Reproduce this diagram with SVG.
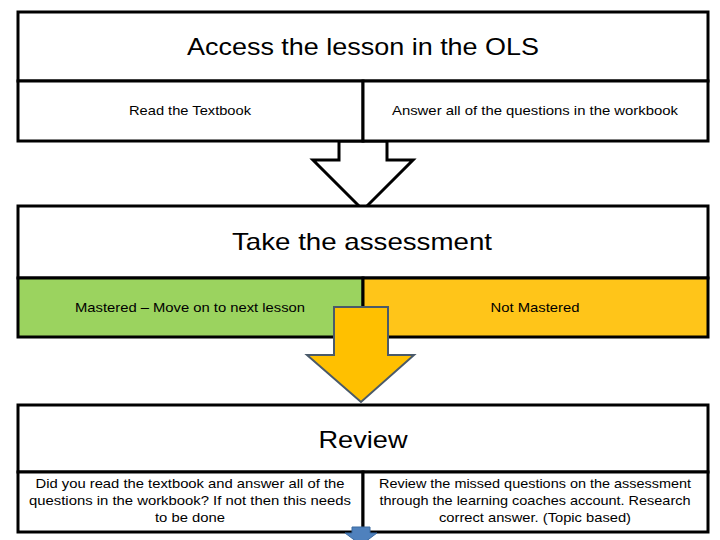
<svg xmlns="http://www.w3.org/2000/svg" width="720" height="540" viewBox="0 0 720 540">
<style>
.box{fill:#fff;stroke:#000;stroke-width:3}
.cell{stroke:#000;stroke-width:3}
text{font-family:"Liberation Sans",Arial,sans-serif;fill:#000;text-anchor:middle}
.big{font-size:24px}
.sm{font-size:13px}
</style>
<rect width="720" height="540" fill="#fff"/>
<g id="connectors">
<polygon points="339,141 387,141 387,160 413,160 363,210 313,160 339,160" fill="#fff" stroke="#000" stroke-width="3"/>
</g>
<g id="node-access">
<rect class="box" x="18" y="12" width="690" height="69"/>
<text class="big" x="363" y="55" textLength="352" lengthAdjust="spacingAndGlyphs">Access the lesson in the OLS</text>
</g>
<g id="node-read">
<rect class="box" x="18" y="81" width="345" height="60"/>
<text class="sm" x="190" y="115" textLength="122" lengthAdjust="spacingAndGlyphs">Read the Textbook</text>
</g>
<g id="node-answer">
<rect class="box" x="363" y="81" width="345" height="60"/>
<text class="sm" x="535" y="115" textLength="286" lengthAdjust="spacingAndGlyphs">Answer all of the questions in the workbook</text>
</g>
<g id="node-assess">
<rect class="box" x="18" y="206" width="690" height="72"/>
<text class="big" x="362" y="250" textLength="260" lengthAdjust="spacingAndGlyphs">Take the assessment</text>
</g>
<g id="node-mastered">
<rect class="cell" x="18" y="278" width="345" height="59" fill="#9BD35F"/>
<text class="sm" x="190" y="312" textLength="230" lengthAdjust="spacingAndGlyphs">Mastered – Move on to next lesson</text>
</g>
<g id="node-notmastered">
<rect class="cell" x="363" y="278" width="345" height="59" fill="#FFC519"/>
<text class="sm" x="535" y="312" textLength="89" lengthAdjust="spacingAndGlyphs">Not Mastered</text>
</g>
<g id="node-review">
<rect class="box" x="18" y="405" width="690" height="67"/>
<text class="big" x="363" y="448" textLength="89" lengthAdjust="spacingAndGlyphs">Review</text>
</g>
<g id="node-review-left">
<rect class="box" x="18" y="472" width="345" height="60"/>
<text class="sm" x="190" y="488" textLength="309" lengthAdjust="spacingAndGlyphs">Did you read the textbook and answer all of the</text>
<text class="sm" x="190" y="505" textLength="322" lengthAdjust="spacingAndGlyphs">questions in the workbook? If not then this needs</text>
<text class="sm" x="190" y="522" textLength="70" lengthAdjust="spacingAndGlyphs">to be done</text>
</g>
<g id="node-review-right">
<rect class="box" x="363" y="472" width="345" height="60"/>
<text class="sm" x="535" y="488" textLength="312" lengthAdjust="spacingAndGlyphs">Review the missed questions on the assessment</text>
<text class="sm" x="535" y="505" textLength="311" lengthAdjust="spacingAndGlyphs">through the learning coaches account. Research</text>
<text class="sm" x="535" y="522" textLength="192" lengthAdjust="spacingAndGlyphs">correct answer. (Topic based)</text>
</g>
<g id="arrows-over">
<polygon points="334,307 388,307 388,355 414,355 361,402 307,355 334,355" fill="#FFC000" stroke="#4A5A6A" stroke-width="2"/>
<polygon points="352,527 370,527 370,533 377,533 361,545 345,533 352,533" fill="#4F81BD" stroke="#3A6AA0" stroke-width="1"/>
</g>
</svg>
